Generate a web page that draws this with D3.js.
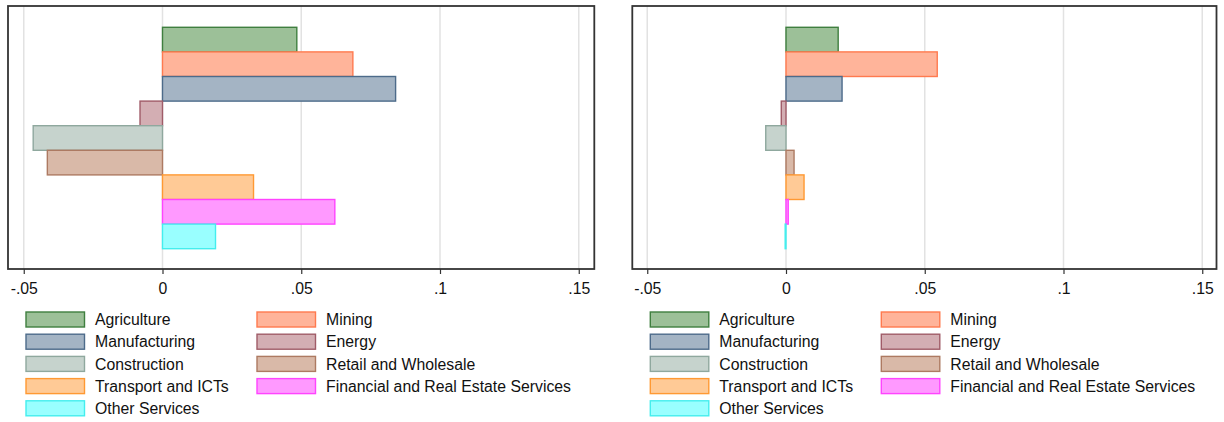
<!DOCTYPE html>
<html><head><meta charset="utf-8">
<script src="https://cdn.jsdelivr.net/npm/d3@7"></script>
<style>body{margin:0;background:#fff;} svg{display:block;font-family:"Liberation Sans",Arial,sans-serif;}</style>
</head><body>
<svg id="c" width="1224" height="422"></svg>
<script>
const categories = ["Agriculture","Mining","Manufacturing","Energy","Construction","Retail and Wholesale","Transport and ICTs","Financial and Real Estate Services","Other Services"];
const leftValues  = [0.0484, 0.0686, 0.0840, -0.0081, -0.0466, -0.0415, 0.0328, 0.0621, 0.0191];
const rightValues = [0.0188, 0.0545, 0.0202, -0.0017, -0.0073, 0.0029, 0.0065, 0.0008, -0.0003];
const tickValues = [-0.05, 0, 0.05, 0.1, 0.15];
const tickLabels = ["-.05", "0", ".05", ".1", ".15"];
const fills   = ["#9cc098","#ffb49a","#a4b4c4","#d3aeb3","#c6d3cd","#d9b9a8","#ffca96","#ff99ff","#99ffff"];
const strokes = ["#3f7f3f","#ff7a4f","#4d6b8a","#a05c68","#8fa89e","#ad7a62","#ff9933","#ff44ff","#44eeee"];
const legendOrder = ["Agriculture","Mining","Manufacturing","Energy","Construction","Retail and Wholesale","Transport and ICTs","Financial and Real Estate Services","Other Services"];

const svg = d3.select("#c");
const FS = 15.8;

function panel(values, frameL, frameR, zeroX) {
  const per = 2775; // px per unit
  const x = d3.scaleLinear().domain([(frameL - zeroX)/per, (frameR - zeroX)/per]).range([frameL, frameR]);
  const top = 6, bottom = 269;
  const y = d3.scaleBand().domain(categories).range([27.3, 248.7]).padding(0);
  const g = svg.append("g");
  // gridlines
  g.selectAll("line.grid").data(tickValues).join("line")
    .attr("x1", d => x(d)).attr("x2", d => x(d)).attr("y1", top).attr("y2", bottom)
    .attr("stroke", "#e2e2e2").attr("stroke-width", 1.5);
  // bars
  g.selectAll("rect.bar").data(categories).join("rect")
    .attr("x", (d,i) => Math.min(x(0), x(values[i])))
    .attr("width", (d,i) => Math.abs(x(values[i]) - x(0)))
    .attr("y", d => y(d)).attr("height", y.bandwidth())
    .attr("fill", (d,i) => fills[i]).attr("stroke", (d,i) => strokes[i]).attr("stroke-width", 1.4);
  // axis
  const axis = d3.axisBottom(x).tickValues(tickValues).tickFormat((d,i) => tickLabels[i]).tickSize(5).tickSizeOuter(0);
  const ax = g.append("g").attr("transform", `translate(0,${bottom})`).call(axis);
  ax.select(".domain").remove();
  ax.selectAll(".tick line").attr("stroke", "#333").attr("stroke-width", 1.2);
  ax.selectAll(".tick text").attr("font-size", FS).attr("fill", "#111").attr("font-family", "Liberation Sans, Arial, sans-serif").attr("dy", null).attr("y", 25);
  // frame
  g.append("rect").attr("x", frameL).attr("y", top).attr("width", frameR - frameL).attr("height", bottom - top)
    .attr("fill", "none").attr("stroke", "#333").attr("stroke-width", 1.8);
  // legend
  const lg = svg.append("g");
  legendOrder.forEach((name, k) => {
    const i = categories.indexOf(name);
    const col = k % 2, row = Math.floor(k / 2);
    const sx = frameL + 18 + col * 231;
    const cy = 319.5 + row * 22.2;
    lg.append("rect").attr("x", sx).attr("y", cy - 7.5).attr("width", 58.5).attr("height", 15)
      .attr("fill", fills[i]).attr("stroke", strokes[i]).attr("stroke-width", 1.4);
    lg.append("text").attr("x", sx + 69).attr("y", cy + 5.6).attr("font-size", FS).attr("fill", "#111").text(name);
  });
}

panel(leftValues, 8, 594.3, 162.5);
panel(rightValues, 632.3, 1216.5, 786);
</script>
</body></html>
